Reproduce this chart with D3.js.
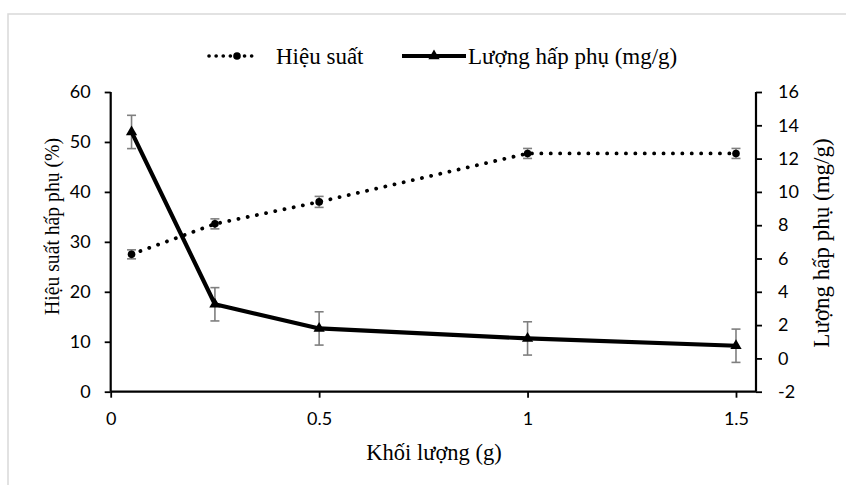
<!DOCTYPE html>
<html lang="vi">
<head>
    <meta charset="UTF-8">
    <title>Khối lượng - Hiệu suất</title>
    <script src="https://d3js.org/d3.v7.min.js"></script>
    <style>
        body { margin: 0; background: #fff; }
        .tick text { font-family: Lato, "Open Sans", sans-serif; font-size: 18px; fill: #000; }
        .title { font-family: "Liberation Serif", "Times New Roman", serif; fill: #000; }
    </style>
</head>
<body>
<script>
    const masses = [0.05, 0.25, 0.5, 1, 1.5];
    const efficiency = [27.5, 33.6, 38.0, 47.7, 47.7];
    const efficiencyErr = [0.9, 1.0, 1.1, 1.0, 1.0];
    const capacity = [13.6, 3.25, 1.8, 1.2, 0.76];
    const capacityErr = [1.0, 1.0, 1.0, 1.0, 1.0];
    const xTicks = [0, 0.5, 1, 1.5];
    const leftTicks = [0, 10, 20, 30, 40, 50, 60];
    const rightTicks = [-2, 0, 2, 4, 6, 8, 10, 12, 14, 16];

    const width = 846, height = 485;
    const plot = { left: 110.7, right: 756, top: 92, bottom: 391.7 };

    const svg = d3.select("body").append("svg")
        .attr("width", width)
        .attr("height", height);

    // outer chart border (cut off at right/bottom like the picture)
    svg.append("rect")
        .attr("x", 8).attr("y", 14)
        .attr("width", 860).attr("height", 500)
        .attr("fill", "none")
        .attr("stroke", "#d9d9d9")
        .attr("stroke-width", 1.5);

    const x = d3.scaleLinear().domain([0, 1.548]).range([plot.left, plot.right]);
    const yL = d3.scaleLinear().domain([0, 60]).range([plot.bottom, plot.top]);
    const yR = d3.scaleLinear().domain([-2, 16]).range([plot.bottom, plot.top]);

    const xAxis = svg.append("g")
        .attr("transform", `translate(0,${plot.bottom})`)
        .call(d3.axisBottom(x).tickValues(xTicks).tickFormat(d3.format("")).tickSize(6).tickPadding(15));
    const leftAxis = svg.append("g")
        .attr("transform", `translate(${plot.left},0)`)
        .call(d3.axisLeft(yL).tickValues(leftTicks).tickSize(6).tickPadding(14));
    const rightAxis = svg.append("g")
        .attr("transform", `translate(${plot.right},0)`)
        .call(d3.axisRight(yR).tickValues(rightTicks).tickSize(6).tickPadding(12));

    [xAxis, leftAxis, rightAxis].forEach(g => {
        g.select(".domain").attr("stroke", "#000").attr("stroke-width", 2.2);
        g.selectAll(".tick line").attr("stroke", "#000").attr("stroke-width", 1.8);
    });
    xAxis.select(".domain").attr("d", `M${plot.left},0H${plot.right}`);
    leftAxis.select(".domain").attr("d", `M0,${plot.bottom}V${plot.top}`);
    rightAxis.select(".domain").attr("d", `M0,${plot.bottom}V${plot.top}`);
    // plain hyphen for negatives, like the original
    rightAxis.selectAll(".tick text").attr("dx", 4).text(d => String(d));

    // error bars
    function errorBars(vals, errs, y) {
        const g = svg.append("g").attr("stroke", "#7f7f7f").attr("stroke-width", 1.6);
        masses.forEach((m, i) => {
            const cx = x(m), top = y(vals[i] + errs[i]), bot = y(vals[i] - errs[i]);
            g.append("line").attr("x1", cx).attr("x2", cx).attr("y1", top).attr("y2", bot);
            g.append("line").attr("x1", cx - 4.5).attr("x2", cx + 4.5).attr("y1", top).attr("y2", top);
            g.append("line").attr("x1", cx - 4.5).attr("x2", cx + 4.5).attr("y1", bot).attr("y2", bot);
        });
    }
    errorBars(efficiency, efficiencyErr, yL);
    errorBars(capacity, capacityErr, yR);

    const effLine = d3.line().x((d, i) => x(masses[i])).y(d => yL(d));
    const capLine = d3.line().x((d, i) => x(masses[i])).y(d => yR(d));

    svg.append("path")
        .attr("d", effLine(efficiency))
        .attr("fill", "none")
        .attr("stroke", "#000")
        .attr("stroke-width", 3.8)
        .attr("stroke-linecap", "round")
        .attr("stroke-dasharray", "0.1,9.3");

    svg.selectAll(".eff-pt").data(efficiency).enter().append("circle")
        .attr("cx", (d, i) => x(masses[i]))
        .attr("cy", d => yL(d))
        .attr("r", 3.8)
        .attr("fill", "#000");

    svg.append("path")
        .attr("d", capLine(capacity))
        .attr("fill", "none")
        .attr("stroke", "#000")
        .attr("stroke-width", 4.2)
        .attr("stroke-linejoin", "round");

    const tri = d3.symbol().type(d3.symbolTriangle).size(55);
    svg.selectAll(".cap-pt").data(capacity).enter().append("path")
        .attr("d", tri)
        .attr("transform", (d, i) => `translate(${x(masses[i])},${yR(d)})`)
        .attr("fill", "#000");

    // axis titles
    svg.append("text").attr("class", "title")
        .attr("x", 434).attr("y", 460)
        .attr("text-anchor", "middle")
        .style("font-size", "22.5px")
        .text("Khối lượng (g)");
    svg.append("text").attr("class", "title")
        .attr("transform", "translate(59,226.5) rotate(-90)")
        .attr("text-anchor", "middle")
        .attr("textLength", 177)
        .attr("lengthAdjust", "spacingAndGlyphs")
        .style("font-size", "21.5px")
        .text("Hiệu suất hấp phụ (%)");
    svg.append("text").attr("class", "title")
        .attr("transform", "translate(829,243) rotate(-90)")
        .attr("text-anchor", "middle")
        .style("font-size", "23px")
        .text("Lượng hấp phụ (mg/g)");

    // legend
    const ly = 56;
    const legend = svg.append("g");
    legend.append("line")
        .attr("x1", 209).attr("x2", 258).attr("y1", ly).attr("y2", ly)
        .attr("stroke", "#000").attr("stroke-width", 3.6)
        .attr("stroke-linecap", "round").attr("stroke-dasharray", "0.1,7");
    legend.append("circle").attr("cx", 237).attr("cy", ly).attr("r", 3.8).attr("fill", "#000");
    legend.append("text").attr("class", "title")
        .attr("x", 276).attr("y", ly + 8)
        .style("font-size", "23px")
        .text("Hiệu suất");
    legend.append("line")
        .attr("x1", 402).attr("x2", 466).attr("y1", ly).attr("y2", ly)
        .attr("stroke", "#000").attr("stroke-width", 4.2);
    legend.append("path").attr("d", tri).attr("transform", `translate(434,${ly})`).attr("fill", "#000");
    legend.append("text").attr("class", "title")
        .attr("x", 468).attr("y", ly + 8)
        .style("font-size", "23px")
        .text("Lượng hấp phụ (mg/g)");
</script>
</body>
</html>
